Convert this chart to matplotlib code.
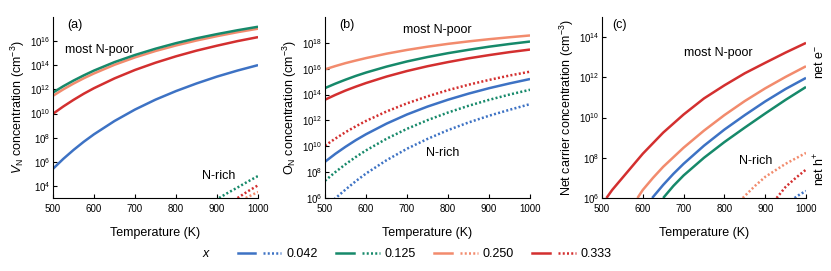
import numpy as np
import matplotlib
matplotlib.use('Agg')
import matplotlib.pyplot as plt
from matplotlib.legend_handler import HandlerTuple

plt.rcParams['font.family'] = ['Liberation Sans', 'DejaVu Sans']
plt.rcParams['mathtext.fontset'] = 'custom'
plt.rcParams['mathtext.rm'] = 'Liberation Sans'
plt.rcParams['mathtext.it'] = 'Liberation Sans:italic'

# temperature grid (K)
T = [500, 525, 550, 575, 600, 650, 700, 750, 800, 850, 900, 950, 1000]

# (a) log10 V_N concentration, most N-poor (solid)
va_042 = [5.42, 6.24, 6.98, 7.66, 8.28, 9.38, 10.33, 11.15, 11.86, 12.49, 13.06, 13.56, 14.01]
va_125 = [11.74, 12.26, 12.73, 13.16, 13.56, 14.26, 14.85, 15.37, 15.83, 16.23, 16.58, 16.90, 17.19]
va_250 = [11.47, 12.0, 12.48, 12.92, 13.32, 14.04, 14.65, 15.18, 15.64, 16.05, 16.41, 16.74, 17.03]
va_333 = [9.98, 10.58, 11.13, 11.64, 12.10, 12.91, 13.61, 14.21, 14.74, 15.21, 15.62, 16.00, 16.33]
# (a) N-rich (dotted)
Ta_rich_125 = [905, 925, 950, 975, 1000]
va_rich_125 = [3.0, 3.4, 3.87, 4.36, 4.82]
Ta_rich_333 = [950, 975, 1000]
va_rich_333 = [3.0, 3.55, 4.05]
Ta_rich_250 = [970, 985, 1000]
va_rich_250 = [3.0, 3.25, 3.5]

# (b) log10 O_N concentration
ob_042 = [8.8, 9.41, 9.96, 10.47, 10.93, 11.75, 12.46, 13.07, 13.6, 14.07, 14.49, 14.86, 15.2]
ob_125 = [14.5, 14.84, 15.15, 15.44, 15.70, 16.16, 16.56, 16.90, 17.20, 17.46, 17.70, 17.91, 18.1]
ob_250 = [15.95, 16.2, 16.43, 16.63, 16.82, 17.16, 17.45, 17.70, 17.92, 18.11, 18.28, 18.43, 18.57]
ob_333 = [13.6, 13.97, 14.31, 14.61, 14.89, 15.39, 15.82, 16.19, 16.51, 16.80, 17.05, 17.28, 17.48]
ob_rich_042 = [5.2, 5.97, 6.65, 7.3, 7.89, 8.92, 9.81, 10.57, 11.25, 11.84, 12.36, 12.82, 13.26]
ob_rich_125 = [7.33, 8.0, 8.61, 9.17, 9.68, 10.58, 11.35, 12.02, 12.61, 13.13, 13.59, 14.0, 14.37]
ob_rich_333 = [10.05, 10.59, 11.09, 11.54, 11.96, 12.69, 13.32, 13.86, 14.34, 14.76, 15.13, 15.47, 15.77]

# (c) log10 net carrier concentration
Tc_333 = [511, 525, 550, 575, 600, 650, 700, 750, 800, 850, 900, 950, 1000]
nc_333 = [6.0, 6.4, 7.0, 7.6, 8.2, 9.25, 10.15, 10.95, 11.6, 12.2, 12.72, 13.23, 13.71]
Tc_250 = [587, 600, 625, 650, 700, 750, 800, 850, 900, 950, 1000]
nc_250 = [6.0, 6.4, 7.0, 7.55, 8.5, 9.35, 10.12, 10.82, 11.45, 12.02, 12.55]
Tc_042 = [623, 650, 675, 700, 750, 800, 850, 900, 950, 1000]
nc_042 = [6.0, 6.65, 7.2, 7.7, 8.6, 9.4, 10.12, 10.8, 11.42, 11.97]
Tc_125 = [650, 675, 700, 750, 800, 850, 900, 950, 1000]
nc_125 = [6.0, 6.6, 7.12, 8.0, 8.78, 9.5, 10.2, 10.88, 11.52]
Tc_rich_250 = [845, 875, 900, 950, 1000]
nc_rich_250 = [6.0, 6.6, 7.05, 7.7, 8.24]
Tc_rich_333 = [928, 950, 975, 1000]
nc_rich_333 = [6.0, 6.55, 7.0, 7.41]
Tc_rich_042 = [972, 985, 1000]
nc_rich_042 = [6.0, 6.18, 6.35]

x_labels = ['0.042', '0.125', '0.250', '0.333']
colors = ['#3d72c4', '#16896a', '#f28b6d', '#d32f2f']

LW = 1.8
DOT = (0, (0.8, 0.9))

fig = plt.figure(figsize=(8.31, 2.71), dpi=100)
ax_a = fig.add_axes([0.0638, 0.2694, 0.2467, 0.668])
ax_b = fig.add_axes([0.3911, 0.2694, 0.2467, 0.668])
ax_c = fig.add_axes([0.7244, 0.2694, 0.2455, 0.668])


def p(ax, t, logv, c, ls='-'):
    return ax.plot(t, 10 ** np.array(logv), color=c, lw=LW, ls=ls,
                   solid_capstyle='butt', dash_capstyle='butt')[0]


# (a)
p(ax_a, T, va_042, colors[0])
p(ax_a, T, va_333, colors[3])
p(ax_a, T, va_250, colors[2])
p(ax_a, T, va_125, colors[1])
p(ax_a, Ta_rich_125, va_rich_125, colors[1], DOT)
p(ax_a, Ta_rich_333, va_rich_333, colors[3], DOT)
p(ax_a, Ta_rich_250, va_rich_250, colors[2], DOT)

# (b)
p(ax_b, T, ob_250, colors[2])
p(ax_b, T, ob_125, colors[1])
p(ax_b, T, ob_333, colors[3])
p(ax_b, T, ob_042, colors[0])
p(ax_b, T, ob_rich_333, colors[3], DOT)
p(ax_b, T, ob_rich_125, colors[1], DOT)
p(ax_b, T, ob_rich_042, colors[0], DOT)

# (c)
p(ax_c, Tc_333, nc_333, colors[3])
p(ax_c, Tc_250, nc_250, colors[2])
p(ax_c, Tc_042, nc_042, colors[0])
p(ax_c, Tc_125, nc_125, colors[1])
p(ax_c, Tc_rich_250, nc_rich_250, colors[2], DOT)
p(ax_c, Tc_rich_333, nc_rich_333, colors[3], DOT)
p(ax_c, Tc_rich_042, nc_rich_042, colors[0], DOT)

ylims = [(1e3, 1e18), (1e6, 1e20), (1e6, 1e15)]
yticks = [range(4, 17, 2), range(6, 19, 2), range(6, 15, 2)]
ylabels = ['$V_\\mathrm{N}$ concentration (cm$^{-3}$)',
           'O$_\\mathrm{N}$ concentration (cm$^{-3}$)',
           'Net carrier concentration (cm$^{-3}$)']
for ax, yl, yt, lab in zip([ax_a, ax_b, ax_c], ylims, yticks, ylabels):
    ax.set_yscale('log')
    ax.set_xlim(500, 1000)
    ax.set_ylim(*yl)
    ax.set_xticks([500, 600, 700, 800, 900, 1000])
    ax.set_yticks([10.0 ** k for k in yt])
    ax.minorticks_off()
    ax.spines['top'].set_visible(False)
    ax.spines['right'].set_visible(False)
    for s in ['left', 'bottom']:
        ax.spines[s].set_linewidth(0.8)
    ax.tick_params(direction='in', length=3, width=0.8, labelsize=7, pad=2)
    ax.tick_params(axis='x', pad=4.5)
    ax.set_xlabel('Temperature (K)', fontsize=9, labelpad=9)
    ax.set_ylabel(lab, fontsize=9, labelpad=2)

fs = 9
ax_a.text(0.07, 0.99, '(a)', transform=ax_a.transAxes, fontsize=fs, va='top')
ax_a.text(0.059, 0.818, 'most N-poor', transform=ax_a.transAxes, fontsize=fs, va='center')
ax_a.text(0.727, 0.12, 'N-rich', transform=ax_a.transAxes, fontsize=fs, va='center')
ax_b.text(0.07, 0.99, '(b)', transform=ax_b.transAxes, fontsize=fs, va='top')
ax_b.text(0.38, 0.928, 'most N-poor', transform=ax_b.transAxes, fontsize=fs, va='center')
ax_b.text(0.493, 0.25, 'N-rich', transform=ax_b.transAxes, fontsize=fs, va='center')
ax_c.text(0.05, 0.99, '(c)', transform=ax_c.transAxes, fontsize=fs, va='top')
ax_c.text(0.40, 0.803, 'most N-poor', transform=ax_c.transAxes, fontsize=fs, va='center')
ax_c.text(0.67, 0.206, 'N-rich', transform=ax_c.transAxes, fontsize=fs, va='center')
fig.text(0.986, 0.771, 'net e$^{-}$', rotation=90, fontsize=fs, ha='center', va='center')
fig.text(0.986, 0.376, 'net h$^{+}$', rotation=90, fontsize=fs, ha='center', va='center')

# legend
handles = []
for c in colors:
    hs = plt.Line2D([], [], color=c, lw=LW)
    hd = plt.Line2D([], [], color=c, lw=LW, ls=DOT)
    handles.append((hs, hd))
fig.legend(handles, x_labels, handler_map={tuple: HandlerTuple(ndivide=None, pad=0.64)},
           ncol=4, loc='center', bbox_to_anchor=(0.511, 0.063), frameon=False,
           fontsize=9, handlelength=3.5, handletextpad=0.4, columnspacing=1.45)
fig.text(0.248, 0.063, '$x$', fontsize=9, ha='center', va='center')

fig.savefig('out.png', dpi=100)
